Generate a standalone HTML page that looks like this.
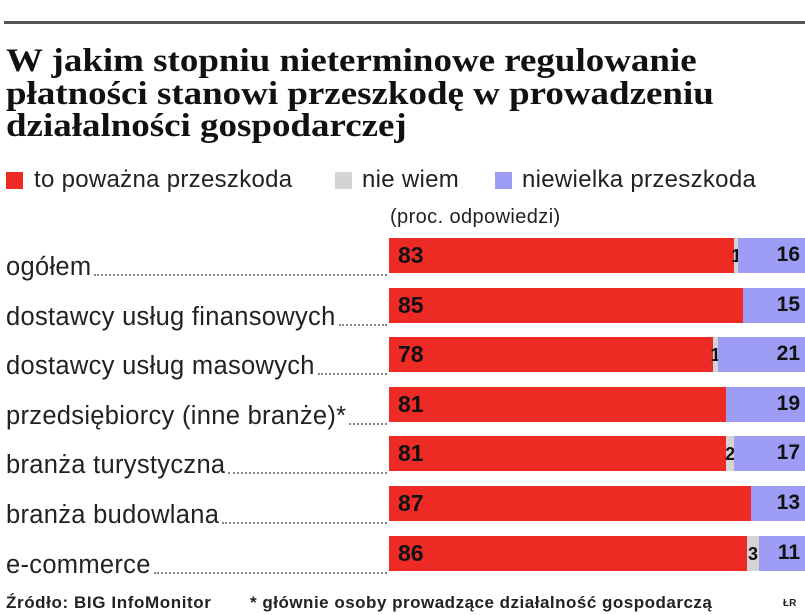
<!DOCTYPE html>
<html><head><meta charset="utf-8">
<style>
body{margin:0;width:805px;height:615px;background:#fff;overflow:hidden;position:relative;font-family:"Liberation Sans",sans-serif;color:#1a1a1a}
.topline{position:absolute;left:4px;right:0;top:21px;height:3px;background:#555}
.title{position:absolute;left:6px;top:45px;font-family:"Liberation Serif",serif;font-weight:bold;font-size:33px;line-height:32.5px;color:#111;transform:scaleX(1.12);transform-origin:0 0;white-space:nowrap}
.legend{position:absolute;top:166px;left:0;font-size:24px;color:#222;width:805px;height:30px}
.legend .sw{position:absolute;top:6px;width:17px;height:17px}
.legend .tx{position:absolute;top:0;white-space:nowrap;letter-spacing:0.3px}
.unit{position:absolute;left:390px;top:206px;font-size:20px;letter-spacing:0.4px;color:#222}
.row{position:absolute;left:0;width:805px;height:35px}
.lab{position:absolute;left:6px;width:383px;bottom:-9px;display:flex;align-items:flex-end;font-size:25.5px;letter-spacing:0.3px;color:#222;white-space:nowrap}
.lab .dots{flex:1;border-bottom:2px dotted #888;margin:0 2px 6px 3px}
.seg{position:absolute;top:0;height:35px}
.val{position:absolute;top:4px;font-size:23px;font-weight:bold;color:#111}
.foot{position:absolute;top:593px;font-size:17px;font-weight:bold;color:#222;white-space:nowrap}
</style></head><body>
<div class="topline"></div>
<div class="title">W jakim stopniu nieterminowe regulowanie<br>płatności stanowi przeszkodę w prowadzeniu<br>działalności gospodarczej</div>
<div class="legend">
<span class="sw" style="left:6px;background:#ee2a24"></span><span class="tx" style="left:34px">to poważna przeszkoda</span>
<span class="sw" style="left:335px;background:#d4d4d4"></span><span class="tx" style="left:362px">nie wiem</span>
<span class="sw" style="left:495px;background:#9d9df5"></span><span class="tx" style="left:522px">niewielka przeszkoda</span>
</div>
<div class="unit">(proc. odpowiedzi)</div>
<div id="chart"></div>
<div class="foot" style="left:6px;letter-spacing:0.6px">Źródło: BIG InfoMonitor</div>
<div class="foot" style="left:250px;letter-spacing:0.5px">* głównie osoby prowadzące działalność gospodarczą</div>
<div class="foot" style="left:783px;font-size:10px;top:598px">ŁR</div>
<script>
const categories=["ogółem","dostawcy usług finansowych","dostawcy usług masowych","przedsiębiorcy (inne branże)*","branża turystyczna","branża budowlana","e-commerce"];
const serious=[83,85,78,81,81,87,86];
const unknown=[1,0,1,0,2,0,3];
const minor=[16,15,21,19,17,13,11];
const X0=389,W=416,Y0=238,STEP=49.6;
const xs=v=>v*W/100;
const chart=document.getElementById('chart');
categories.forEach((c,i)=>{
  const row=document.createElement('div');
  
  
  row.className='row';row.style.top=(Y0+i*STEP)+'px';
  const lab=document.createElement('div');
  
  
  lab.className='lab';
  lab.innerHTML='<span>'+c+'</span><span class="dots"></span>';
  row.appendChild(lab);
  const vals=[serious[i],unknown[i],minor[i]],cols=['#ee2a24','#d4d4d4','#9d9df5'];
  let acc=0;
  vals.forEach((v,k)=>{
    const s=document.createElement('div');
    
    
    s.className='seg';s.style.left=(X0+xs(acc))+'px';s.style.width=xs(v)+'px';s.style.background=cols[k];
    row.appendChild(s);
    if(v>0){
      const t=document.createElement('div');
      
      
      t.className='val';t.textContent=v;
      if(k===0){t.style.left=(X0+9)+'px';}
      else if(k===1){t.style.left=(X0+xs(acc)-6)+'px';t.style.width=(xs(v)+12)+'px';t.style.textAlign='center';t.style.fontSize='18px';t.style.top='8px';}
      else{t.style.right='5px';t.style.fontSize='21px';t.style.top='5px';}
      row.appendChild(t);
    }
    acc+=v;
  });
  chart.appendChild(row);
});
</script>
</body></html>
